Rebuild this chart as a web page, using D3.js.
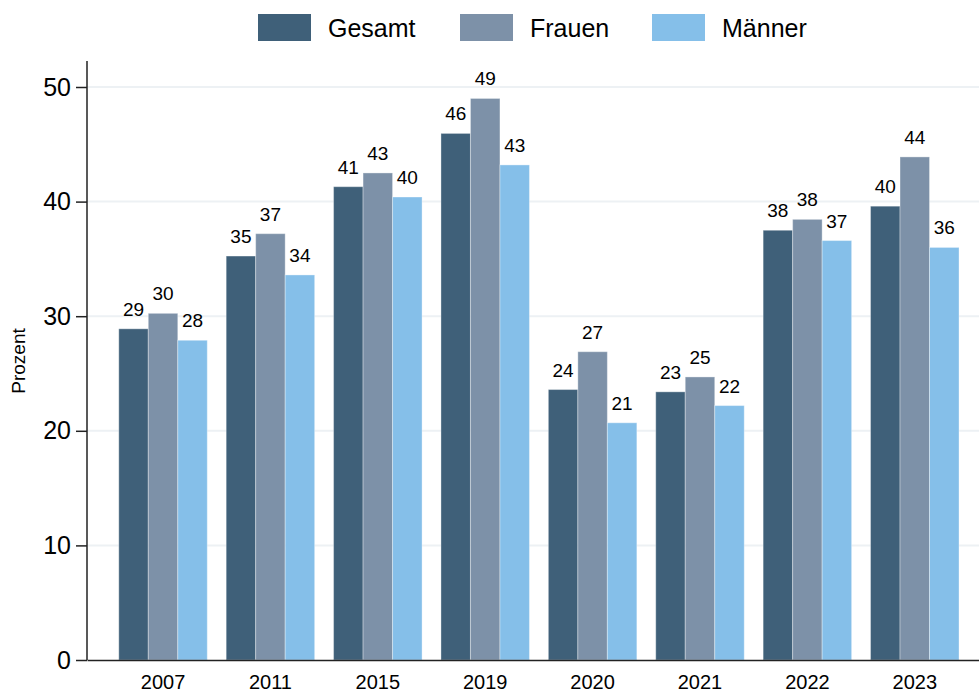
<!DOCTYPE html>
<html>
<head>
<meta charset="utf-8">
<script src="https://cdn.jsdelivr.net/npm/d3@7"></script>
<style>
  body { margin: 0; background: #fff; }
  text { font-family: "Liberation Sans", Arial, sans-serif; fill: #000; }
</style>
</head>
<body>
<script>
// the years along the bottom
var years = ["2007", "2011", "2015", "2019", "2020", "2021", "2022", "2023"];

// one list per group
var gesamt = [28.9, 35.25, 41.3, 45.95, 23.6, 23.4, 37.5, 39.6];
var frauen = [30.25, 37.2, 42.5, 49.0, 26.9, 24.7, 38.45, 43.9];
var maenner = [27.9, 33.6, 40.4, 43.2, 20.7, 22.2, 36.6, 36.0];

var seriesNames = ["Gesamt", "Frauen", "Männer"];
var seriesColors = ["#3f6079", "#7d91a8", "#85bfe9"];
var yTicks = [0, 10, 20, 30, 40, 50];

var allSeries = [gesamt, frauen, maenner];

var width = 979;
var height = 693;

var svg = d3.select("body")
  .append("svg")
  .attr("width", width)
  .attr("height", height);

// scales
var x = d3.scaleBand()
  .domain(years)
  .range([87, 979])
  .paddingInner(0.176)
  .paddingOuter(0.241)
  .align(0.614);

var xSub = d3.scaleBand()
  .domain(seriesNames)
  .range([0, x.bandwidth()]);

var y = d3.scaleLinear()
  .domain([0, 50])
  .range([660, 87]);

// light gridlines first so the bars sit on top
svg.append("g")
  .selectAll("line")
  .data(yTicks.filter(function(t) { return t > 0; }))
  .enter()
  .append("line")
  .attr("x1", 87)
  .attr("x2", 979)
  .attr("y1", function(d) { return y(d); })
  .attr("y2", function(d) { return y(d); })
  .attr("stroke", "#edf1f4")
  .attr("stroke-width", 2);

// the bars, one group per year
var groups = svg.append("g")
  .selectAll("g")
  .data(years)
  .enter()
  .append("g")
  .attr("transform", function(d) { return "translate(" + x(d) + ",0)"; });

groups.selectAll("rect")
  .data(function(d, i) {
    return seriesNames.map(function(name, s) {
      return { name: name, value: allSeries[s][i], color: seriesColors[s] };
    });
  })
  .enter()
  .append("rect")
  .attr("x", function(d) { return xSub(d.name); })
  .attr("y", function(d) { return y(d.value); })
  .attr("width", xSub.bandwidth())
  .attr("height", function(d) { return y(0) - y(d.value); })
  .attr("fill", function(d) { return d.color; })
  .attr("stroke", "#ffffff")
  .attr("stroke-opacity", 0.35)
  .attr("stroke-width", 1);

// value labels above the bars (rounded)
groups.selectAll("text")
  .data(function(d, i) {
    return seriesNames.map(function(name, s) {
      return { name: name, value: allSeries[s][i] };
    });
  })
  .enter()
  .append("text")
  .attr("x", function(d) { return xSub(d.name) + xSub.bandwidth() / 2; })
  .attr("y", function(d) { return y(d.value) - 13; })
  .attr("text-anchor", "middle")
  .style("font-size", "19px")
  .text(function(d) { return Math.round(d.value); });

// y axis
var yAxis = svg.append("g")
  .attr("transform", "translate(87,0)")
  .call(d3.axisLeft(y).tickValues(yTicks).tickSize(11).tickPadding(5));

yAxis.select(".domain").attr("stroke", "#222").attr("stroke-width", 1.5)
  .attr("d", "M0," + y(0) + "V61");
yAxis.selectAll(".tick line").attr("stroke", "#222").attr("stroke-width", 1.5);
yAxis.selectAll(".tick text")
  .style("font-size", "25px")
  .style("font-family", "'Liberation Sans', Arial, sans-serif")
  .attr("fill", "#000");

// x axis
var xAxis = svg.append("g")
  .attr("transform", "translate(0," + y(0) + ")")
  .call(d3.axisBottom(x).tickSize(0).tickPadding(15));

xAxis.select(".domain").attr("stroke", "#222").attr("stroke-width", 1.5);
xAxis.selectAll(".tick text")
  .style("font-size", "20px")
  .style("font-family", "'Liberation Sans', Arial, sans-serif")
  .attr("fill", "#000");

// y label
svg.append("text")
  .attr("transform", "translate(25,361) rotate(-90)")
  .attr("text-anchor", "middle")
  .style("font-size", "19px")
  .text("Prozent");

// legend across the top
var legendX = [258, 460, 652];
var legend = svg.append("g")
  .selectAll("g")
  .data(seriesNames)
  .enter()
  .append("g")
  .attr("transform", function(d, i) { return "translate(" + legendX[i] + ",14)"; });

legend.append("rect")
  .attr("width", 53)
  .attr("height", 27)
  .attr("fill", function(d, i) { return seriesColors[i]; });

legend.append("text")
  .attr("x", 70)
  .attr("y", 23)
  .style("font-size", "25px")
  .text(function(d) { return d; });
</script>
</body>
</html>
